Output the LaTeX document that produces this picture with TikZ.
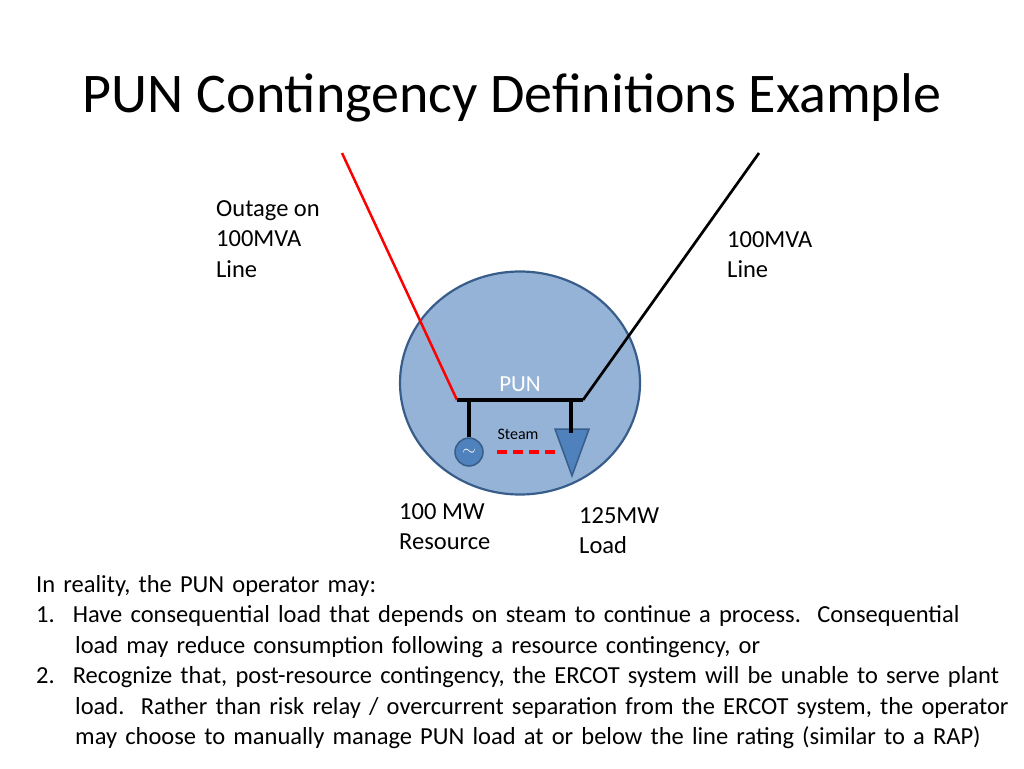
\documentclass[tikz,border=0pt]{standalone}
\usepackage{fontspec}
\setmainfont{Carlito}
\usetikzlibrary{shapes.geometric}
\definecolor{fillb}{HTML}{95B3D7}
\definecolor{edgeb}{HTML}{385D8A}
\definecolor{devb}{HTML}{4F81BD}
\tikzset{lbl/.style={anchor=north west,align=left,font=\fontsize{24.5}{30.5}\selectfont,inner sep=0pt},
 wire/.style={line width=3.5pt}}
\begin{document}
\begin{tikzpicture}[x=1pt,y=-1pt]
\useasboundingbox (0,0) rectangle (1024,768);
\node (title) at (512,98) {\fontsize{56}{64}\selectfont PUN Contingency Definitions Example};
\node[ellipse,draw=edgeb,line width=2.2pt,fill=fillb,minimum width=240pt,minimum height=223pt] (pun) at (520,383) {};
\coordinate (r1) at (342,153); \coordinate (b1) at (457,400);
\coordinate (k1) at (759,153); \coordinate (b2) at (583,400);
\draw[red,line width=2.5pt] (r1) -- (b1);
\draw[line width=2.7pt] (k1) -- (b2);
\draw[wire] (b1) -- (b2);
\coordinate (g0) at (469,400); \coordinate (l0) at (571,400);
\node[circle,draw=edgeb,fill=devb,line width=1.5pt,minimum size=28pt,inner sep=0pt,text=white] (gen) at (469,452) {\fontsize{18}{18}\selectfont$\sim$};
\node[isosceles triangle,isosceles triangle apex angle=40,shape border rotate=-90,draw=edgeb,fill=devb,line width=1.5pt,minimum width=34pt,minimum height=44pt,inner sep=0pt,anchor=apex] (load) at (572,478) {};
\draw[wire] (g0) -- (gen.north);
\draw[wire] (l0) -- (571,433);
\draw[red,line width=3.8pt,dash pattern=on 10pt off 6pt] (497,452) -- (555,452);
\node (pl) at (520,384) {\fontsize{23}{23}\selectfont\color{white}PUN};
\node (st) at (518,434) {\fontsize{16}{16}\selectfont Steam};
\node[lbl] (o) at (216,200) {Outage on\\100MVA\\Line};
\node[lbl] (m) at (727,231) {100MVA\\Line};
\node[lbl] (res) at (399,503) {100 MW\\Resource};
\node[lbl] (ld) at (579,507) {125MW\\Load};
\node[lbl,text width=990pt,align=left] (txt) at (36,575) {In reality, the PUN operator may:\\
1.\hspace{18pt}Have consequential load that depends on steam to continue a process.\ \ Consequential\\
\hspace*{39pt}load may reduce consumption following a resource contingency, or\\
2.\hspace{18pt}Recognize that, post-resource contingency, the ERCOT system will be unable to serve plant\\
\hspace*{39pt}load.\ \ Rather than risk relay / overcurrent separation from the ERCOT system, the operator\\
\hspace*{39pt}may choose to manually manage PUN load at or below the line rating (similar to a RAP)};
\end{tikzpicture}
\end{document}
